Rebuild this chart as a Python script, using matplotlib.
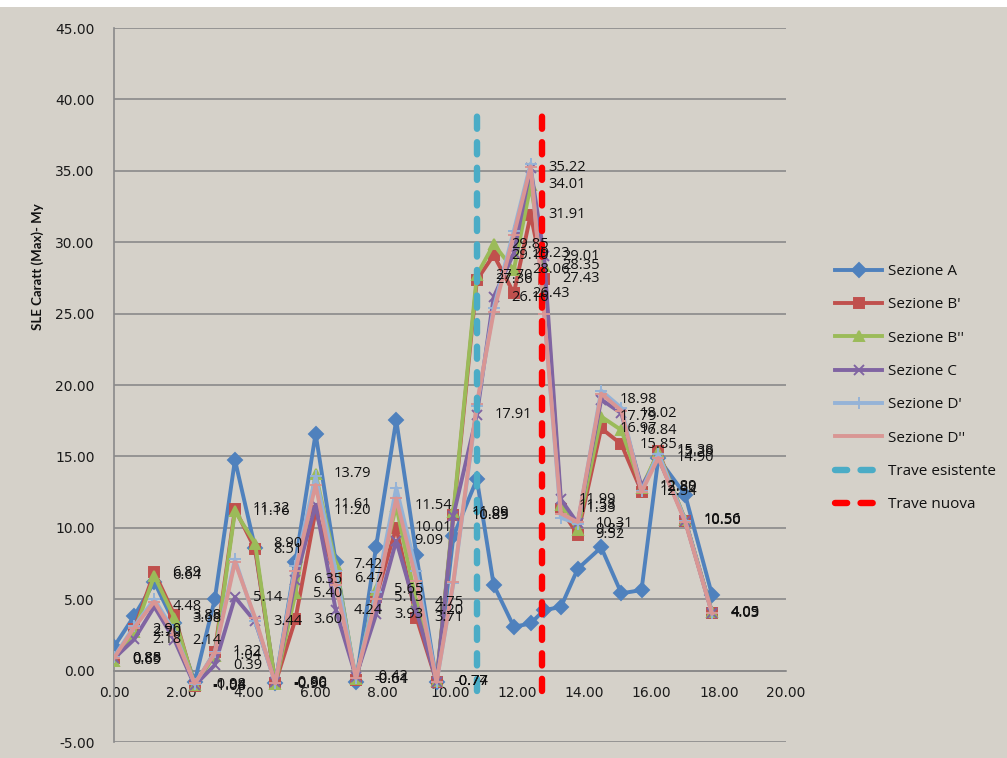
import matplotlib
matplotlib.use("Agg")
import matplotlib.pyplot as plt
from matplotlib.patches import Rectangle

# positions along the beam (m)
x_pos = [0.0, 0.6, 1.2, 1.8, 2.4, 3.0, 3.6, 4.2, 4.8, 5.4, 6.0, 6.6, 7.2, 7.8, 8.4, 9.0,
         9.6, 10.1, 10.8, 11.3, 11.9, 12.4, 12.8, 13.3, 13.8, 14.5, 15.1, 15.7, 16.2, 17.0, 17.8]

sez_a = [1.67, 3.82, 6.20, 3.30, -0.78, 5.00, 14.75, 8.60, -0.90, 7.60, 16.60, 7.60, -0.80, 8.68,
         17.55, 8.10, -0.80, 9.40, 13.40, 6.00, 3.07, 3.30, 4.24, 4.45, 7.12, 8.63, 5.41, 5.64,
         14.87, 12.30, 5.29]
sez_b1 = [0.88, 2.90, 6.89, 3.88, -1.08, 1.32, 11.32, 8.51, -0.90, 3.60, 11.20, 6.47, -0.64, 5.15,
          10.01, 3.71, -0.77, 10.89, 27.36, 29.10, 26.43, 31.91, 27.43, 11.33, 9.52, 16.97, 15.85,
          12.54, 15.38, 10.50, 4.03]
sez_b2 = [0.69, 2.70, 6.64, 3.68, -0.98, 1.04, 11.16, 8.90, -0.96, 5.40, 13.79, 7.42, -0.61, 5.65,
          11.54, 4.75, -0.74, 11.09, 27.70, 29.85, 28.06, 34.01, 28.35, 11.58, 9.87, 17.79, 16.84,
          12.80, 15.29, 10.56, 4.09]
sez_c = [0.85, 2.18, 4.48, 2.14, -1.04, 0.39, 5.14, 3.44, -0.80, 6.35, 11.61, 4.24, -0.42, 3.93,
         9.09, 4.20, -0.77, 10.85, 17.91, 26.16, 29.23, 35.22, 29.01, 11.99, 10.31, 18.98, 18.02,
         12.89, 14.90, 10.50, 4.05]
sez_d1 = [0.95, 3.10, 5.00, 2.70, -0.95, 1.30, 7.80, 3.50, -0.90, 7.30, 13.60, 7.00, -0.55, 5.50,
          12.80, 7.00, -0.80, 6.10, 18.50, 25.40, 30.80, 35.50, 25.00, 10.70, 10.30, 19.60, 18.40,
          12.60, 15.20, 10.50, 4.00]
sez_d2 = [0.88, 3.00, 4.83, 2.50, -0.90, 1.20, 7.60, 3.70, -0.90, 7.00, 13.00, 6.00, -0.50, 5.00,
          12.06, 6.30, -0.80, 6.20, 18.70, 25.10, 30.50, 35.30, 25.00, 11.00, 10.40, 19.40, 18.20,
          12.50, 14.90, 10.40, 4.00]

# beam positions (vertical markers)
trave_esistente_x = [10.8, 10.8]
trave_nuova_x = [12.75, 12.75]
trave_y = [-1.4, 39.3]

bg = "#d5d1c9"
fig = plt.figure(figsize=(10.07, 7.58), dpi=100, facecolor=bg)
fig.patches.append(Rectangle((0, 1 - 7 / 758), 1, 7 / 758, transform=fig.transFigure,
                             facecolor="white", edgecolor="none"))
ax = fig.add_axes([114 / 1007, 16 / 758, 672 / 1007, 714 / 758])
ax.set_facecolor(bg)

series = [
    ("Sezione A", sez_a, "#4f81bd", "D", 7, False),
    ("Sezione B'", sez_b1, "#c0504d", "s", 6.5, True),
    ("Sezione B''", sez_b2, "#9bbb59", "^", 7.5, True),
    ("Sezione C", sez_c, "#8064a2", "x", 7, True),
    ("Sezione D'", sez_d1, "#95b3d7", "+", 9, False),
    ("Sezione D''", sez_d2, "#d99694", "_", 9, False),
]

for name, vals, col, mk, ms, lab in series:
    ax.plot(x_pos, vals, color=col, lw=2.8, marker=mk, markersize=ms,
            markeredgewidth=1.4, label=name, zorder=3)

ax.plot(trave_esistente_x, trave_y, color="#4bacc6", lw=4.6, dashes=(1.9, 2.1),
        dash_capstyle="round", label="Trave esistente", zorder=4)
ax.plot(trave_nuova_x, trave_y, color="#ff0000", lw=4.6, dashes=(1.9, 2.1),
        dash_capstyle="round", label="Trave nuova", zorder=4)

# data labels for B', B'' and C
for name, vals, col, mk, ms, lab in series:
    if not lab:
        continue
    for xv, yv in zip(x_pos, vals):
        ax.annotate(f"{yv:.2f}", (xv, yv), xytext=(13, 0), textcoords="offset points",
                    ha="left", va="center", fontsize=10.5, family=["Open Sans", "DejaVu Sans"],
                    color="#111111", annotation_clip=False, zorder=5)

ax.set_xlim(0, 20)
ax.set_ylim(-5, 45)
ax.set_xticks(range(0, 21, 2))
ax.set_yticks(range(-5, 46, 5))
ax.xaxis.set_major_formatter(matplotlib.ticker.FormatStrFormatter("%.2f"))
ax.yaxis.set_major_formatter(matplotlib.ticker.FormatStrFormatter("%.2f"))
ax.tick_params(axis="x", length=0, pad=11, labelsize=10, labelcolor="#1a1a1a")
ax.tick_params(axis="y", length=0, pad=14, labelsize=10, labelcolor="#1a1a1a")

ax.grid(axis="y", color="#8a8a8a", lw=1.2, zorder=0)
ax.set_axisbelow(True)
for s in ["top", "right"]:
    ax.spines[s].set_visible(False)
ax.spines["bottom"].set_position(("data", 0))
ax.spines["bottom"].set_color("#8a8a8a")
ax.spines["bottom"].set_linewidth(1.2)
ax.spines["left"].set_color("#8a8a8a")
ax.spines["left"].set_linewidth(1.2)

fig.text(0.037, 1 - 267 / 758, "SLE Caratt (Max)- My", rotation=90, ha="center", va="center",
         fontsize=9.5, fontweight="bold",
         family=["Liberation Sans Narrow", "DejaVu Sans Condensed", "Lato", "DejaVu Sans"],
         color="#111111")

leg = ax.legend(loc="upper left", bbox_to_anchor=(835 / 1007, 1 - 264 / 758),
                bbox_transform=fig.transFigure, frameon=False, borderpad=0, borderaxespad=0,
                handlelength=3.1, handletextpad=0.4, labelspacing=1.2,
                prop={"family": ["Open Sans", "DejaVu Sans"], "size": 11})
for t in leg.get_texts():
    t.set_color("#111111")

fig.savefig("out.png", dpi=100, facecolor=bg)
